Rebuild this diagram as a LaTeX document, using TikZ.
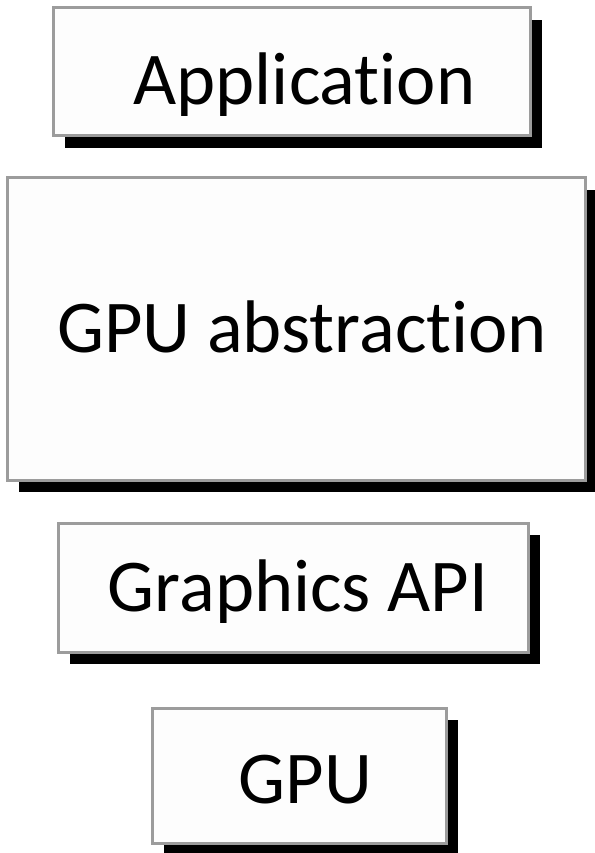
\documentclass[tikz,border=0pt]{standalone}
\usepackage{fontspec}
\setmainfont{Carlito}[Ligatures=NoCommon]
\usepackage{tikz}
\usetikzlibrary{
	positioning,
	shadows
}
\definecolor{framegray}{HTML}{9C9C9C}
\definecolor{boxwhite}{HTML}{FDFDFD}
\tikzset{
	layer/.style={draw=framegray, line width=3pt, fill=boxwhite,
		drop shadow={shadow xshift=12pt, shadow yshift=-12pt, fill=black, opacity=1},
		inner sep=0pt},
	layertext/.style={anchor=base, inner sep=0pt, font=\fontsize{74.5}{86}\selectfont}
}

\begin{document}
\begin{tikzpicture}[x=1pt, y=-1pt]
	\useasboundingbox (0,0) rectangle (594,853);

	\node[layer, minimum width=477pt, minimum height=128pt] (app) at (291.5, 72) {};
	\node[layer, minimum width=578pt, minimum height=302pt] (abs) at (296, 329) {};
	\node[layer, minimum width=470pt, minimum height=129pt] (api) at (293, 587.5) {};
	\node[layer, minimum width=294pt, minimum height=135pt] (gpu) at (299, 775.5) {};

	\node[layertext] (applbl) at (304.5, 105) {Application};
	\node[layertext] (abslbl) at (302, 352) {GPU abstraction};
	\node[layertext] (apilbl) at (298, 611) {Graphics API};
	\node[layertext] (gpulbl) at (305.5, 803) {GPU};

\end{tikzpicture}
\end{document}
